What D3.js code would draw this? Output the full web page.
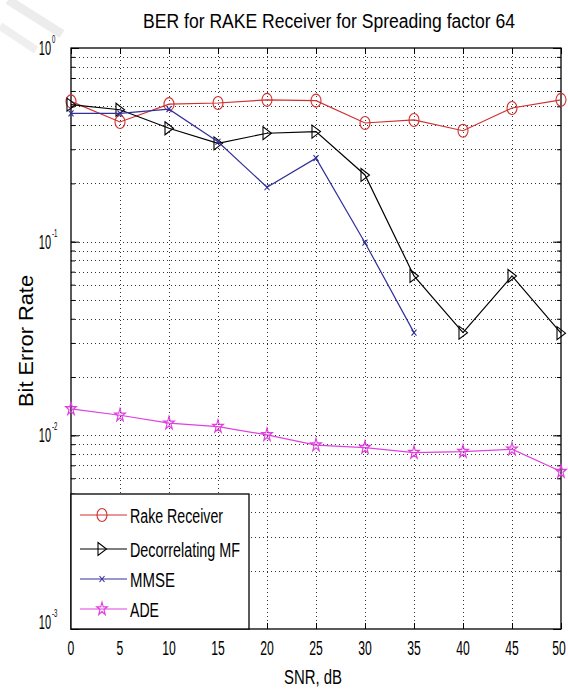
<!DOCTYPE html>
<html><head><meta charset="utf-8">
<script src="https://cdn.jsdelivr.net/npm/d3@7"></script>
<style>body{margin:0;background:#fff}svg{display:block}text{font-family:"Liberation Sans",Arial,sans-serif;fill:#000}</style>
</head><body><div id="chart"></div>
<script>
const snr = [0,5,10,15,20,25,30,35,40,45,50];
const rake = [0.53,0.415,0.513,0.52,0.54,0.535,0.41,0.425,0.374,0.49,0.54];
const decor = [0.51,0.48,0.385,0.322,0.363,0.37,0.221,0.0665,0.0339,0.0665,0.0337];
const mmseSnr = [0,5,10,15,20,25,30,35];
const mmse = [0.46,0.46,0.483,0.328,0.191,0.27,0.0988,0.0339];
const ade = [0.0137,0.0127,0.01155,0.0111,0.01005,0.0089,0.00864,0.00815,0.00824,0.00848,0.0065];
const xTicks = [0,5,10,15,20,25,30,35,40,45,50];
const yDecades = [1e-3,1e-2,1e-1,1];
const yExps = ["-3","-2","-1","0"];
const seriesNames = ["Rake Receiver","Decorrelating MF","MMSE","ADE"];
const title = "BER for RAKE Receiver for Spreading factor 64";
const xLabel = "SNR, dB";
const yLabel = "Bit Error Rate";

const W=568,H=689, L=71, R=561, T=48, B=629;
const svg=d3.select("#chart").append("svg").attr("width",W).attr("height",H);
const x=d3.scaleLinear().domain([0,50]).range([L,R]);
const y=d3.scaleLog().domain([1e-3,1]).range([B,T]);

// faint watermark
svg.append("path").attr("d","M8,0 L62,34").attr("stroke","#ececec").attr("stroke-width",9).attr("fill","none");
svg.append("path").attr("d","M0,26 L36,50").attr("stroke","#efefef").attr("stroke-width",8).attr("fill","none");

const minor=[];
[1e-3,1e-2,1e-1].forEach(d=>{for(let k=1;k<10;k++)minor.push(d*k);});
minor.push(1);

// grid
const grid=svg.append("g").attr("stroke","#333").attr("stroke-width",1).attr("stroke-dasharray","1,3");
xTicks.filter(v=>v>0&&v<50).forEach(v=>grid.append("line").attr("x1",Math.round(x(v))+0.5).attr("x2",Math.round(x(v))+0.5).attr("y1",T).attr("y2",B));
minor.filter(v=>v>1e-3*1.01&&v<0.99).forEach(v=>grid.append("line").attr("y1",Math.round(y(v))+0.5).attr("y2",Math.round(y(v))+0.5).attr("x1",L).attr("x2",R));

// axes (inward ticks)
function styleAxis(g){g.select(".domain").remove();g.selectAll("line").attr("stroke","#000");g.selectAll("text").remove();}
svg.append("g").attr("transform",`translate(0,${B})`).call(d3.axisBottom(x).tickValues(xTicks).tickSize(-6)).call(styleAxis);
svg.append("g").attr("transform",`translate(0,${T})`).call(d3.axisTop(x).tickValues(xTicks).tickSize(-6)).call(styleAxis);
svg.append("g").attr("transform",`translate(${L},0)`).call(d3.axisLeft(y).tickValues(minor).tickSize(-4)).call(styleAxis);
svg.append("g").attr("transform",`translate(${R},0)`).call(d3.axisRight(y).tickValues(minor).tickSize(-4)).call(styleAxis);
svg.append("g").attr("transform",`translate(${L},0)`).call(d3.axisLeft(y).tickValues(yDecades).tickSize(-8)).call(styleAxis);
svg.append("g").attr("transform",`translate(${R},0)`).call(d3.axisRight(y).tickValues(yDecades).tickSize(-8)).call(styleAxis);

// x tick labels (horizontally condensed)
const sx=0.58;
xTicks.forEach((v,i)=>{
  const cx=x(v)-(i===xTicks.length-1?2:0);
  svg.append("text").attr("transform",`translate(${cx},655) scale(${sx},1)`).attr("text-anchor","middle").attr("font-size",21).text(String(v));
});
// y tick labels: 10 with superscript exponent
const sy=0.55;
yDecades.forEach((v,i)=>{
  let cy=y(v); if(i===0) cy-=7;
  const t=svg.append("text").attr("transform",`translate(51,${cy+7}) scale(${sy},1)`).attr("font-size",20).attr("text-anchor","start");
  t.append("tspan").attr("x",-22.2).text("10");
  t.append("tspan").attr("font-size",11).attr("dy",-12).attr("dx",2).text(yExps[i]);
});

// title and labels
svg.append("text").attr("x",329).attr("y",28).attr("text-anchor","middle").attr("font-size",20)
  .attr("textLength",372).attr("lengthAdjust","spacingAndGlyphs").text(title);
svg.append("text").attr("x",313).attr("y",684).attr("text-anchor","middle").attr("font-size",20)
  .attr("textLength",58).attr("lengthAdjust","spacingAndGlyphs").text(xLabel);
svg.append("text").attr("transform","translate(33,341) rotate(-90)").attr("text-anchor","middle").attr("font-size",21)
  .attr("textLength",132).attr("lengthAdjust","spacingAndGlyphs").text(yLabel);

// box
svg.append("rect").attr("x",L).attr("y",T).attr("width",R-L).attr("height",B-T).attr("fill","none").attr("stroke","#000").attr("stroke-width",1.3);

// markers
const markers={
  circle:(g,c)=>g.append("ellipse").attr("rx",5).attr("ry",6.5).attr("fill","none").attr("stroke",c).attr("stroke-width",1.1),
  tri:(g,c)=>g.append("path").attr("d","M-4,-6.5L4.5,0L-4,6.5Z").attr("fill","none").attr("stroke",c).attr("stroke-width",1.1),
  x:(g,c)=>g.append("path").attr("d","M-2.5,-3L2.5,3M-2.5,3L2.5,-3").attr("fill","none").attr("stroke",c).attr("stroke-width",1.1),
  star:(g,c)=>g.append("path").attr("d",d3.symbol(d3.symbolStar,34)()).attr("transform","scale(1,1.25)").attr("fill","none").attr("stroke",c).attr("stroke-width",1.1)
};
const series=[
  {name:seriesNames[0],xs:snr,ys:rake,color:"#d03030",m:"circle"},
  {name:seriesNames[1],xs:snr,ys:decor,color:"#000000",m:"tri"},
  {name:seriesNames[2],xs:mmseSnr,ys:mmse,color:"#30309a",m:"x"},
  {name:seriesNames[3],xs:snr,ys:ade,color:"#e040e0",m:"star"}
];
const line=d3.line().x(d=>x(d[0])).y(d=>y(d[1]));
series.forEach(s=>{
  const pts=s.xs.map((v,i)=>[v,s.ys[i]]);
  svg.append("path").datum(pts).attr("d",line).attr("fill","none").attr("stroke",s.color).attr("stroke-width",1.2);
  pts.forEach(p=>{const g=svg.append("g").attr("transform",`translate(${x(p[0])},${y(p[1])})`);markers[s.m](g,s.color);});
});

// legend
const lg=svg.append("g");
lg.append("rect").attr("x",L).attr("y",494).attr("width",249-L).attr("height",B-494).attr("fill","#fff").attr("stroke","#000").attr("stroke-width",1.3);
const rowY=[515,549,579,609], txtW=[93,110,45,29];
series.forEach((s,i)=>{
  lg.append("line").attr("x1",80).attr("x2",127).attr("y1",rowY[i]).attr("y2",rowY[i]).attr("stroke",s.color).attr("stroke-width",1.2);
  const g=lg.append("g").attr("transform",`translate(102,${rowY[i]})`);markers[s.m](g,s.color);
  lg.append("text").attr("x",130).attr("y",rowY[i]+7.5).attr("font-size",20).attr("textLength",txtW[i]).attr("lengthAdjust","spacingAndGlyphs").text(s.name);
});
</script></body></html>
